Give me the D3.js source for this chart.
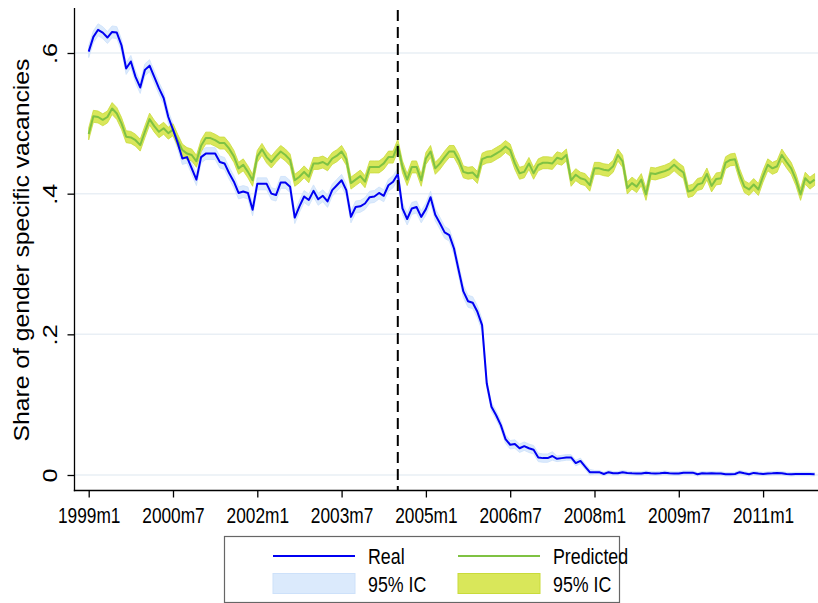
<!DOCTYPE html>
<html><head><meta charset="utf-8">
<script src="https://cdn.jsdelivr.net/npm/d3@7"></script>
<style>
html,body{margin:0;padding:0;background:#fff}
svg{display:block}
text{font-family:"Liberation Sans",Arial,Helvetica,sans-serif;fill:#000}
</style>
</head><body>
<svg id="chart" width="818" height="603"></svg>
<script>
// ---- data ----
const xTickMonths = [0, 18, 36, 54, 72, 90, 108, 126, 144];
const xTickLabels = ["1999m1","2000m7","2002m1","2003m7","2005m1","2006m7","2008m1","2009m7","2011m1"];
const yTickValues = [0, 0.2, 0.4, 0.6];
const yTickLabels = ["0", ".2", ".4", ".6"];
const reformMonth = 66; // 2004m7
const yTitle = "Share of gender specific vacancies";
const legendLabels = ["Real", "Predicted", "95% IC", "95% IC"];

// monthly values 1999m1 .. 2011m12 (one row per year)
const real = [
  0.602,0.623,0.633,0.629,0.622,0.630,0.629,0.611,0.578,0.588,0.566,0.551,
  0.576,0.582,0.566,0.550,0.536,0.509,0.491,0.472,0.450,0.452,0.436,0.420,
  0.452,0.457,0.457,0.457,0.445,0.443,0.429,0.417,0.401,0.403,0.401,0.377,
  0.414,0.414,0.414,0.400,0.398,0.416,0.416,0.410,0.366,0.382,0.396,0.391,
  0.404,0.392,0.397,0.389,0.405,0.412,0.419,0.405,0.367,0.381,0.382,0.386,
  0.395,0.396,0.401,0.397,0.412,0.417,0.428,0.379,0.364,0.379,0.381,0.367,
  0.378,0.395,0.370,0.358,0.345,0.341,0.322,0.291,0.261,0.247,0.245,0.232,
  0.213,0.130,0.097,0.085,0.071,0.051,0.043,0.044,0.038,0.041,0.038,0.036,
  0.025,0.024,0.024,0.027,0.023,0.024,0.025,0.025,0.017,0.020,0.012,0.004,
  0.004,0.004,0.0014,0.004,0.0024,0.0024,0.004,0.003,0.0024,0.002,0.002,0.0033,
  0.0024,0.002,0.0024,0.0033,0.0024,0.002,0.002,0.0033,0.0033,0.0033,0.001,0.0024,
  0.002,0.0024,0.002,0.002,0.001,0.001,0.0014,0.004,0.0024,0.001,0.003,0.002,
  0.0014,0.002,0.0024,0.003,0.0024,0.0014,0.001,0.0014,0.0014,0.0014,0.0014,0.001
];
const predicted = [
  0.485,0.510,0.509,0.505,0.509,0.521,0.514,0.500,0.481,0.480,0.476,0.469,
  0.488,0.506,0.496,0.488,0.493,0.486,0.491,0.476,0.462,0.457,0.455,0.446,
  0.468,0.479,0.479,0.476,0.472,0.472,0.464,0.453,0.436,0.441,0.431,0.419,
  0.453,0.463,0.452,0.445,0.453,0.460,0.455,0.448,0.419,0.424,0.431,0.424,
  0.443,0.443,0.445,0.441,0.450,0.454,0.460,0.449,0.415,0.420,0.425,0.417,
  0.438,0.438,0.438,0.443,0.452,0.452,0.469,0.438,0.420,0.438,0.438,0.419,
  0.450,0.460,0.436,0.443,0.452,0.460,0.460,0.448,0.431,0.429,0.430,0.423,
  0.449,0.452,0.453,0.457,0.461,0.467,0.462,0.443,0.429,0.431,0.443,0.429,
  0.441,0.444,0.444,0.443,0.451,0.449,0.455,0.419,0.427,0.422,0.420,0.412,
  0.436,0.436,0.434,0.433,0.439,0.455,0.446,0.408,0.415,0.410,0.420,0.399,
  0.429,0.428,0.430,0.432,0.435,0.441,0.435,0.430,0.403,0.405,0.413,0.415,
  0.428,0.411,0.421,0.422,0.444,0.448,0.449,0.427,0.410,0.406,0.413,0.406,
  0.425,0.441,0.436,0.439,0.455,0.445,0.436,0.420,0.399,0.422,0.415,0.420
];
// half-width of the 95% confidence intervals
const realCIHalf = [
  0.0085,0.0085,0.0085,0.0085,0.0085,0.0085,0.0085,0.0085,0.0085,0.0085,0.0085,0.0085,
  0.0085,0.0085,0.0085,0.0085,0.0085,0.0085,0.0085,0.0085,0.0085,0.0085,0.0085,0.0085,
  0.0085,0.0085,0.0085,0.0085,0.0085,0.0085,0.0085,0.0085,0.0085,0.0085,0.0085,0.0085,
  0.0085,0.0085,0.0085,0.0085,0.0085,0.0085,0.0085,0.0085,0.0085,0.0085,0.0085,0.0085,
  0.0085,0.0085,0.0085,0.0085,0.0085,0.0085,0.0085,0.0085,0.0085,0.0085,0.0085,0.0085,
  0.0085,0.0085,0.0085,0.0085,0.0085,0.0085,0.0085,0.0085,0.0085,0.0085,0.0085,0.0085,
  0.0085,0.0085,0.0085,0.0085,0.0085,0.0085,0.0085,0.0085,0.0085,0.0085,0.0085,0.0085,
  0.0085,0.006,0.006,0.006,0.006,0.006,0.006,0.006,0.006,0.006,0.006,0.006,
  0.006,0.006,0.006,0.006,0.004,0.004,0.004,0.004,0.004,0.004,0.004,0.004,
  0.0025,0.0025,0.0025,0.0025,0.0025,0.0025,0.0025,0.0025,0.0025,0.0025,0.0025,0.0025,
  0.0025,0.0025,0.0025,0.0025,0.0025,0.0025,0.0025,0.0025,0.0025,0.0025,0.0025,0.0025,
  0.0025,0.0025,0.0025,0.0025,0.0025,0.0025,0.0025,0.0025,0.0025,0.0025,0.0025,0.0025,
  0.0025,0.0025,0.0025,0.0025,0.0025,0.0025,0.0025,0.0025,0.0025,0.0025,0.0025,0.0025
];
const predCIHalf = [
  0.0085,0.0085,0.0085,0.0085,0.0085,0.0085,0.0085,0.0085,0.0085,0.0085,0.0085,0.0085,
  0.0085,0.0085,0.0085,0.0085,0.0085,0.0085,0.0085,0.0085,0.0085,0.0085,0.0085,0.0085,
  0.0085,0.0085,0.0085,0.0085,0.0085,0.0085,0.0085,0.0085,0.0085,0.0085,0.0085,0.0085,
  0.0085,0.0085,0.0085,0.0085,0.0085,0.0085,0.0085,0.0085,0.0085,0.0085,0.0085,0.0085,
  0.0085,0.0085,0.0085,0.0085,0.0085,0.0085,0.0085,0.0085,0.0085,0.0085,0.0085,0.0085,
  0.0085,0.0085,0.0085,0.0085,0.0085,0.0085,0.0085,0.0085,0.0085,0.0085,0.0085,0.0085,
  0.0085,0.0085,0.0085,0.0085,0.0085,0.0085,0.0085,0.0085,0.0085,0.0085,0.0085,0.0085,
  0.0085,0.0085,0.0085,0.0085,0.0085,0.0085,0.0085,0.0085,0.0085,0.0085,0.0085,0.0085,
  0.0085,0.0085,0.0085,0.0085,0.0085,0.0085,0.0085,0.0085,0.0085,0.0085,0.0085,0.0085,
  0.0085,0.0085,0.0085,0.0085,0.0085,0.0085,0.0085,0.0085,0.0085,0.0085,0.0085,0.0085,
  0.0085,0.0085,0.0085,0.0085,0.0085,0.0085,0.0085,0.0085,0.0085,0.0085,0.0085,0.0085,
  0.0085,0.0085,0.0085,0.0085,0.0085,0.0085,0.0085,0.0085,0.0085,0.0085,0.0085,0.0085,
  0.0085,0.0085,0.0085,0.0085,0.0085,0.0085,0.0085,0.0085,0.0085,0.0085,0.0085,0.0085
];

// ---- styles ----
const K = 1.16;   // vertical stretch of the original export (title)
const KT = 1.3;   // stretch of tick labels
const C = {
  real: "#0000f2", realCI: "#dbeafc", realCIEdge: "#cde1fa",
  pred: "#7fc243", predCI: "#d9e75a", predCIEdge: "#c9db3a",
  grid: "#e9eff5"
};

const svg = d3.select("#chart");
const months = real.map((_, i) => i);

const x = d3.scaleLinear().domain([0, 155]).range([88.7, 814.6]);
const y = d3.scaleLinear().domain([0, 0.6]).range([475, 53]);
const plotTop = 8, plotBottom = 490.5, plotLeft = 74.5, plotRight = 818;

// gridlines
svg.append("g").selectAll("line").data(yTickValues).join("line")
  .attr("x1", plotLeft).attr("x2", plotRight)
  .attr("y1", d => y(d)).attr("y2", d => y(d))
  .attr("stroke", C.grid).attr("stroke-width", 1.5);

// bands
const band = (vals, half) => d3.area()
  .x(i => x(i)).y0(i => y(vals[i] - half[i])).y1(i => y(vals[i] + half[i]));

svg.append("path").datum(months)
  .attr("d", band(real, realCIHalf))
  .attr("fill", C.realCI).attr("stroke", C.realCIEdge).attr("stroke-width", 0.8);
svg.append("path").datum(months)
  .attr("d", band(predicted, predCIHalf))
  .attr("fill", C.predCI).attr("stroke", C.predCIEdge).attr("stroke-width", 0.8);

// lines
const lineGen = vals => d3.line().x(i => x(i)).y(i => y(vals[i]));
svg.append("path").datum(months)
  .attr("d", lineGen(predicted))
  .attr("fill", "none").attr("stroke", C.pred).attr("stroke-width", 2)
  .attr("stroke-linejoin", "round");
svg.append("path").datum(months)
  .attr("d", lineGen(real))
  .attr("fill", "none").attr("stroke", C.real).attr("stroke-width", 2)
  .attr("stroke-linejoin", "round");

// reform line
svg.append("line")
  .attr("x1", x(reformMonth)).attr("x2", x(reformMonth))
  .attr("y1", plotTop + 2).attr("y2", plotBottom)
  .attr("stroke", "#000").attr("stroke-width", 2)
  .attr("stroke-dasharray", "11,6");

// x axis
const xAxis = d3.axisBottom(x)
  .tickValues(xTickMonths)
  .tickFormat((d, i) => xTickLabels[i])
  .tickSize(7).tickSizeOuter(0);
const gx = svg.append("g").attr("transform", `translate(0,${plotBottom})`).call(xAxis);
gx.select(".domain").remove();
gx.selectAll(".tick line").attr("stroke", "#000").attr("stroke-width", 1.3);
gx.selectAll(".tick text")
  .attr("y", null).attr("dy", null)
  .attr("transform", `translate(0,32.5) scale(1,${KT})`)
  .style("font-size", "17.3px").attr("fill", "#000");
svg.append("line").attr("x1", plotLeft - 0.7).attr("x2", plotRight)
  .attr("y1", plotBottom).attr("y2", plotBottom)
  .attr("stroke", "#000").attr("stroke-width", 1.3);

// y axis
const yAxis = d3.axisLeft(y)
  .tickValues(yTickValues)
  .tickFormat((d, i) => yTickLabels[i])
  .tickSize(7).tickSizeOuter(0);
const gy = svg.append("g").attr("transform", `translate(${plotLeft},0)`).call(yAxis);
gy.select(".domain").remove();
gy.selectAll(".tick line").attr("stroke", "#000").attr("stroke-width", 1.3);
gy.selectAll(".tick text")
  .attr("x", null).attr("dy", null)
  .attr("text-anchor", "middle")
  .attr("transform", `translate(-17.5,0) rotate(-90) scale(${KT},1)`)
  .style("font-size", "19.5px").attr("fill", "#000");
svg.append("line").attr("x1", plotLeft).attr("x2", plotLeft)
  .attr("y1", plotTop).attr("y2", plotBottom + 0.7)
  .attr("stroke", "#000").attr("stroke-width", 1.3);

// y title
svg.append("text")
  .attr("transform", `translate(28.5,250) rotate(-90) scale(${K},1)`)
  .attr("text-anchor", "middle")
  .style("font-size", "21.3px")
  .text(yTitle);

// legend
const lg = svg.append("g");
lg.append("rect").attr("x", 224.5).attr("y", 536.5).attr("width", 395).attr("height", 66)
  .attr("fill", "#fff").attr("stroke", "#666").attr("stroke-width", 1.2);
lg.append("line").attr("x1", 273).attr("x2", 355).attr("y1", 556).attr("y2", 556)
  .attr("stroke", C.real).attr("stroke-width", 2);
lg.append("line").attr("x1", 458).attr("x2", 540).attr("y1", 556).attr("y2", 556)
  .attr("stroke", C.pred).attr("stroke-width", 2);
lg.append("rect").attr("x", 273).attr("y", 573.5).attr("width", 82).attr("height", 20)
  .attr("fill", C.realCI).attr("stroke", C.realCIEdge).attr("stroke-width", 1);
lg.append("rect").attr("x", 458).attr("y", 573.5).attr("width", 82).attr("height", 20)
  .attr("fill", C.predCI).attr("stroke", C.predCIEdge).attr("stroke-width", 1);
const legPos = [[368, 563.5], [553, 563.5], [368, 591.5], [553, 591.5]];
legendLabels.forEach((t, i) => {
  lg.append("text")
    .attr("transform", `translate(${legPos[i][0]},${legPos[i][1]}) scale(1,1.22)`)
    .style("font-size", "17.8px")
    .text(t);
});
</script>
</body></html>
